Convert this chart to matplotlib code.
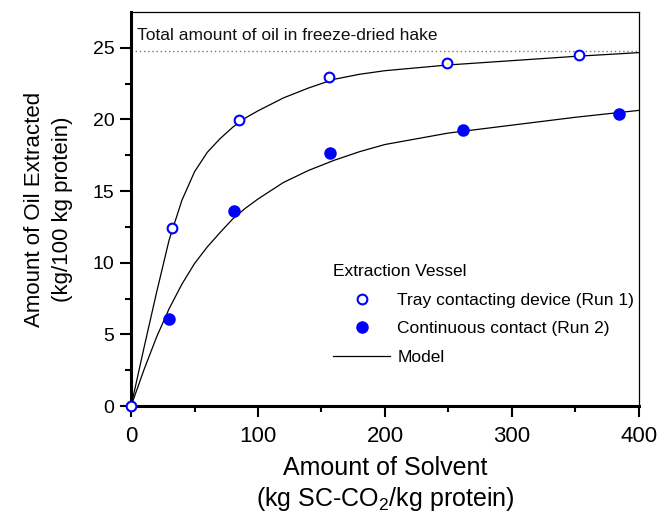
import matplotlib.pyplot as plt

plt.rcParams['font.family'] = ['Liberation Sans', 'DejaVu Sans']
plt.rcParams['mathtext.fontset'] = 'custom'
plt.rcParams['mathtext.rm'] = 'Liberation Sans'
plt.rcParams['mathtext.it'] = 'Liberation Sans'

# Run 1: tray contacting device
run1_x = [0, 32.5, 85.3, 156.0, 249.0, 353.0]
run1_y = [0, 12.45, 19.96, 22.94, 23.94, 24.47]

# Run 2: continuous contact
run2_x = [29.7, 80.9, 156.7, 261.2, 384.5]
run2_y = [6.05, 13.6, 17.65, 19.29, 20.4]

# model curves, read on a fixed solvent grid
model_x = [0, 10, 20, 30, 40, 50, 60, 70, 80, 90, 100, 120, 140, 160, 180, 200, 250, 300, 350, 400]
model1_y = [0, 4.0, 7.9, 11.6, 14.35, 16.35, 17.7, 18.65, 19.45, 20.1, 20.6, 21.5, 22.2, 22.8,
            23.15, 23.4, 23.8, 24.1, 24.4, 24.66]
model2_y = [0, 2.5, 4.8, 6.8, 8.5, 9.95, 11.1, 12.1, 13.05, 13.8, 14.45, 15.6, 16.45, 17.15,
            17.75, 18.25, 19.05, 19.6, 20.15, 20.63]

total_oil = 24.75

fig = plt.figure(figsize=(6.62, 5.18), dpi=100)
ax = fig.add_axes([0.198, 0.216, 0.767, 0.761])

ax.axhline(total_oil, color='#777777', lw=1, ls=(0, (1, 2)), zorder=1)
ax.text(5, 25.55, 'Total amount of oil in freeze-dried hake',
        fontsize=12.5, va='baseline', ha='left', color='#111111')

ax.plot(model_x, model1_y, color='black', lw=0.9, zorder=2)
line_model, = ax.plot(model_x, model2_y, color='black', lw=0.9, zorder=2, label='Model')

h1, = ax.plot(run1_x, run1_y, ls='none', marker='o', ms=7, mfc='white', mec='#0000ff',
              mew=1.5, clip_on=False, zorder=3, label='Tray contacting device (Run 1)')
h2, = ax.plot(run2_x, run2_y, ls='none', marker='o', ms=8, mfc='#0000ff', mec='#0000ff',
              clip_on=False, zorder=3, label='Continuous contact (Run 2)')

ax.set_xlim(0, 400)
ax.set_ylim(0, 27.5)
ax.set_xticks([0, 100, 200, 300, 400])
ax.set_xticks([50, 150, 250, 350], minor=True)
ax.set_yticks([0, 5, 10, 15, 20, 25])
ax.set_yticks([2.5, 7.5, 12.5, 17.5, 22.5], minor=True)

ax.tick_params(axis='both', which='major', direction='out', length=8, width=1.5)
ax.tick_params(axis='both', which='minor', direction='out', length=4.3, width=1.5)
ax.tick_params(axis='x', labelsize=16, pad=6.5)
ax.tick_params(axis='y', labelsize=14, pad=4)

for side in ['left', 'bottom']:
    ax.spines[side].set_linewidth(2.2)
for side in ['top', 'right']:
    ax.spines[side].set_linewidth(0.9)

ax.set_xlabel('Amount of Solvent\n(kg SC-CO$_2$/kg protein)', fontsize=18, labelpad=6,
              linespacing=1.25)
ax.set_ylabel('Amount of Oil Extracted\n(kg/100 kg protein)', fontsize=16, labelpad=14,
              linespacing=1.45)

leg = ax.legend(handles=[h1, h2, line_model], title='Extraction Vessel', frameon=False,
                loc='upper left', bbox_to_anchor=(0.398, 0.36), borderpad=0,
                borderaxespad=0, handlelength=3.3, handletextpad=0.4, labelspacing=0.77,
                prop={'size': 12.5}, title_fontproperties={'size': 12.5})
leg._legend_box.align = 'left'

fig.savefig('out.png', dpi=100)
